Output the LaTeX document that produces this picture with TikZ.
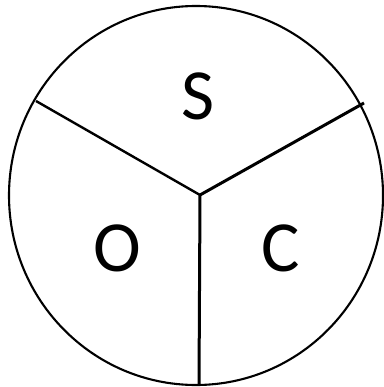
\documentclass[tikz,border=0pt]{standalone}
\usepackage{fontspec}
\setmainfont{Carlito}
\begin{document}
\begin{tikzpicture}[x=1pt,y=-1pt,
  lbl/.style={font=\fontsize{72}{76}\selectfont, inner sep=0pt, anchor=center},
  rim/.style={line width=2.1pt},
  spoke/.style={line width=3pt}]
\useasboundingbox (0,0) rectangle (383,387);
\draw[rim] (196,195.5) ellipse [x radius=187, y radius=189.5];
\coordinate (m) at (200,195);
\coordinate (l) at (36,101);
\coordinate (r) at (364,103);
\coordinate (b) at (199,385);
\draw[line width=2.4pt] (m) -- (l);
\draw[spoke] (m) -- (r);
\draw[spoke] (m) -- (b);
\node[lbl] (s) at (198,96) {S};
\node[lbl] (o) at (117,248) {O};
\node[lbl] (c) at (281,248) {C};
\end{tikzpicture}
\end{document}
